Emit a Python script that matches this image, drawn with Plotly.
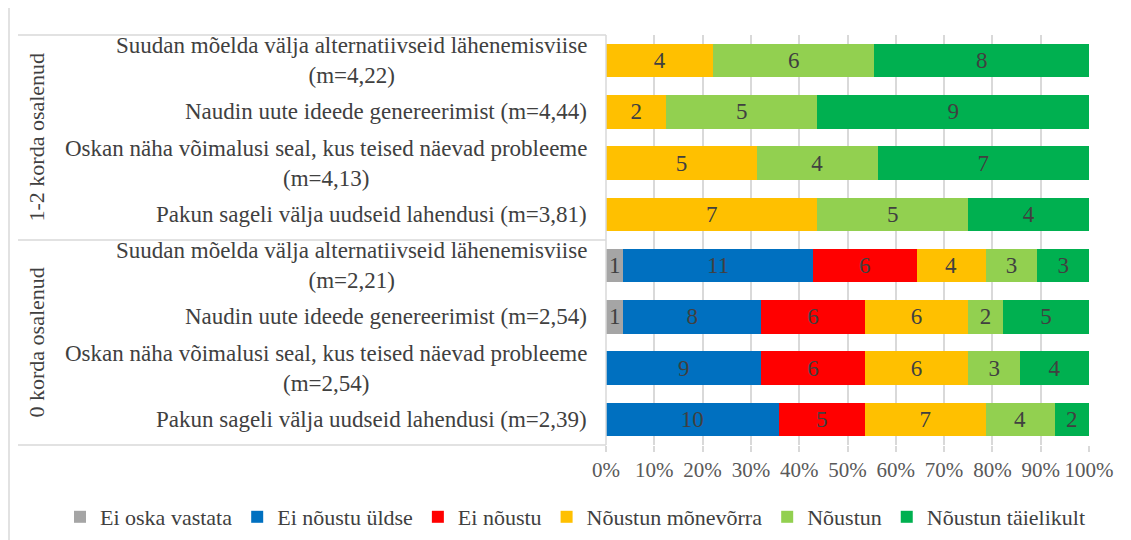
import plotly.graph_objects as go

# Categories (top to bottom)
labels = [
    "Suudan mõelda välja alternatiivseid lähenemisviise<br>(m=4,22)",
    "Naudin uute ideede genereerimist (m=4,44)",
    "Oskan näha võimalusi seal, kus teised näevad probleeme<br>(m=4,13)",
    "Pakun sageli välja uudseid lahendusi (m=3,81)",
    "Suudan mõelda välja alternatiivseid lähenemisviise<br>(m=2,21)",
    "Naudin uute ideede genereerimist (m=2,54)",
    "Oskan näha võimalusi seal, kus teised näevad probleeme<br>(m=2,54)",
    "Pakun sageli välja uudseid lahendusi (m=2,39)",
]
groups = ["1-2 korda osalenud", "0 korda osalenud"]

series_names = ["Ei oska vastata", "Ei nõustu üldse", "Ei nõustu",
                "Nõustun mõnevõrra", "Nõustun", "Nõustun täielikult"]
ei_oska = [0, 0, 0, 0, 1, 1, 0, 0]
ei_noustu_uldse = [0, 0, 0, 0, 11, 8, 9, 10]
ei_noustu = [0, 0, 0, 0, 6, 6, 6, 5]
noustun_monevorra = [4, 2, 5, 7, 4, 6, 6, 7]
noustun = [6, 5, 4, 5, 3, 2, 3, 4]
noustun_taielikult = [8, 9, 7, 4, 3, 5, 4, 2]
colors = ["#A5A5A5", "#0070C0", "#FF0000", "#FFC000", "#92D050", "#00B050"]

series = [ei_oska, ei_noustu_uldse, ei_noustu, noustun_monevorra, noustun, noustun_taielikult]
totals = [sum(s[i] for s in series) for i in range(len(labels))]
n = len(labels)
ypos = [n - 1 - i for i in range(n)]

FONT = "Liberation Serif"
TXT = "#404040"
GRID = "#D9D9D9"

# page body has an 8px margin: figure occupies the window minus 8px
OFF = 8
W, H = 1131 - OFF, 540 - OFF
L, R, T, B = 606 - OFF, 42, 35 - OFF, 540 - 445
pw, ph = W - L - R, H - T - B

def px2x(px):  # px in screenshot coords
    return (px - OFF - L) / pw

def px2y(py):
    return (H - B - (py - OFF)) / ph

fig = go.Figure()
for name, vals, col in zip(series_names, series, colors):
    xs = [v / t if v else None for v, t in zip(vals, totals)]
    txt = [str(v) if v else "" for v in vals]
    fig.add_trace(go.Bar(
        y=ypos, x=xs, name=name, orientation="h",
        marker=dict(color=col, line=dict(width=0)),
        text=txt, textposition="inside", insidetextanchor="middle",
        textangle=0, constraintext="none",
        textfont=dict(family=FONT, size=23, color=TXT),
        hoverinfo="skip",
    ))

# Category labels
for lab, y in zip(labels, ypos):
    fig.add_annotation(x=0, xref="paper", y=y, yref="y", text=lab,
                       xanchor="right", yanchor="middle", align="center",
                       xshift=-17, showarrow=False,
                       font=dict(family=FONT, size=23, color=TXT))

# Group labels
for gi, g in enumerate(groups):
    ymid = (n - 1) - (gi * 4 + 1.5)
    fig.add_annotation(x=px2x(36), xref="paper", y=ymid, yref="y", text=g,
                       textangle=-90, showarrow=False, xanchor="center",
                       yanchor="middle",
                       font=dict(family=FONT, size=22, color=TXT))

# Group separator lines
for py in [35, 240, 445]:
    fig.add_shape(type="line", xref="paper", yref="paper",
                  x0=px2x(18), x1=px2x(606), y0=px2y(py), y1=px2y(py),
                  line=dict(color=GRID, width=1.5))
# Y axis line
fig.add_shape(type="line", xref="paper", yref="paper",
              x0=0, x1=0, y0=0, y1=1, line=dict(color=GRID, width=1.5))
# Outer border left
fig.add_shape(type="line", xref="paper", yref="paper",
              x0=px2x(9), x1=px2x(9), y0=px2y(540), y1=px2y(8),
              line=dict(color=GRID, width=1.5))

fig.update_layout(
    barmode="stack", bargap=0.35,
    width=W, height=H,
    margin=dict(l=L, r=R, t=T, b=B, autoexpand=False),
    paper_bgcolor="white", plot_bgcolor="white",
    showlegend=True,
    legend=dict(orientation="h", x=px2x(60), xref="paper", xanchor="left",
                y=px2y(517), yanchor="middle", itemwidth=30,
                bgcolor="rgba(0,0,0,0)",
                font=dict(family=FONT, size=22, color=TXT),
                traceorder="normal"),
    xaxis=dict(range=[0, 1], dtick=0.1, tick0=0, tickformat=".0%",
               showgrid=True, gridcolor=GRID, gridwidth=1.5,
               zeroline=False, showline=False,
               ticks="outside", ticklen=6, tickcolor=GRID, tickwidth=1.5,
               tickfont=dict(family=FONT, size=21, color="#595959")),
    yaxis=dict(range=[-0.5, n - 0.5], showticklabels=False, showgrid=False,
               zeroline=False, showline=False),
)

fig.write_html("out.html")
